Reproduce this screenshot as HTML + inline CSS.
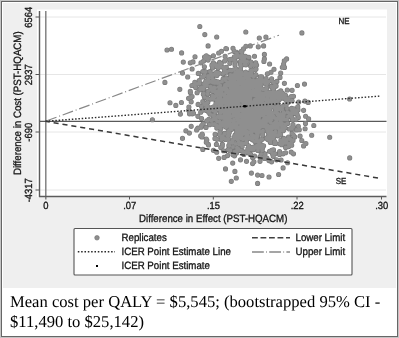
<!DOCTYPE html>
<html><head><meta charset="utf-8"><style>
html,body{margin:0;padding:0;background:#fff;}
svg{display:block;}
text{text-rendering:geometricPrecision;}
.gs{will-change:transform;}
</style></head><body>
<svg class="gs" width="399" height="338" viewBox="0 0 399 338">
<rect x="0" y="0" width="399" height="338" fill="#c4c4c4"/>
<rect x="1" y="1" width="397" height="336" fill="#666"/>
<rect x="2" y="2" width="395" height="334" fill="#ffffff"/>
<rect x="3" y="3" width="393" height="285" fill="#efefef"/>
<rect x="37" y="9.5" width="350" height="187.5" fill="#ffffff"/>
<line x1="40" y1="17" x2="386" y2="17" stroke="#e6e6e6" stroke-width="1"/>
<line x1="40" y1="74.5" x2="386" y2="74.5" stroke="#e6e6e6" stroke-width="1"/>
<line x1="40" y1="132" x2="386" y2="132" stroke="#e6e6e6" stroke-width="1"/>
<line x1="40" y1="190" x2="386" y2="190" stroke="#e6e6e6" stroke-width="1"/>
<line x1="35.5" y1="17" x2="39.5" y2="17" stroke="#555" stroke-width="1"/>
<line x1="35.5" y1="74.5" x2="39.5" y2="74.5" stroke="#555" stroke-width="1"/>
<line x1="35.5" y1="132" x2="39.5" y2="132" stroke="#555" stroke-width="1"/>
<line x1="35.5" y1="190" x2="39.5" y2="190" stroke="#555" stroke-width="1"/>
<line x1="129.5" y1="196" x2="129.5" y2="199.5" stroke="#555" stroke-width="1"/>
<line x1="213.3" y1="196" x2="213.3" y2="199.5" stroke="#555" stroke-width="1"/>
<line x1="297" y1="196" x2="297" y2="199.5" stroke="#555" stroke-width="1"/>
<line x1="381.5" y1="196" x2="381.5" y2="199.5" stroke="#555" stroke-width="1"/>
<line x1="39.5" y1="121.3" x2="386.5" y2="121.3" stroke="#5a5a5a" stroke-width="1.3"/>
<line x1="45.8" y1="11" x2="45.8" y2="199.5" stroke="#7a7a7a" stroke-width="1.4"/>
<defs><path id="pp" d="M193.5 113.3h0M197.9 116.3h0M201.6 118.5h0M203.1 123.7h0M197.9 128.1h0M206 127.4h0M202.4 134.8h0M206.8 140h0M208.3 144.4h0M214.9 138.5h0M216.4 144.4h0M222.3 145.9h0M240.5 159.8h0M246.5 161.3h0M252.6 157.6h0M252.6 163.6h0M260 161.3h0M269 160.6h0M276.6 159.8h0M279.6 154.5h0M279.6 151.5h0M275 153.8h0M282.6 144h0M287 139.5h0M233 147h0M264.4 54.4h0M264.4 58.9h0M269.6 64h0M274 69.2h0M271 72.2h0M267.4 73.7h0M280.7 73h0M280 77.4h0M283.6 64h0M286.6 58.9h0M284.4 83.3h0M287.3 90h0M248.9 57.4h0M245.9 64.8h0M241 58h0M244 61h0M251 62h0M254 65h0M256 69h0M195 56.7h0M208.1 45.9h0M225.9 48.6h0M221.4 51.2h0M218.7 53h0M213.4 55.7h0M209 57.4h0M206.3 55.7h0M190.3 62.8h0M193 61.9h0M201 62.8h0M203.6 61h0M208.1 60.1h0M192.1 69h0M187.7 77h0M198.3 73.4h0M202.8 71.6h0M204.5 75.2h0M208.1 77h0M209.9 71.6h0M212.5 68.1h0M216.1 66.3h0M194.8 82.3h0M199.2 80.5h0M195.7 87.6h0M190.3 91.2h0M192.1 96.5h0M188.6 98.3h0M191.2 101.8h0M241.8 52.1h0M238.3 55.7h0M234.7 57.4h0M231.2 59.2h0M250.3 45.9h0M258.3 46.8h0M263.6 45.9h0M255.7 62.8h0M282.3 67.2h0M297.4 85.5h0M304.5 84.1h0M292.1 90.3h0M291.2 96.5h0M288.5 98.3h0M271.6 78.7h0M273.4 82.3h0M276.1 85.9h0M188.6 110.3h0M191.2 126.3h0M185.9 130.8h0M189.4 133.1h0M201 127.2h0M201.9 137h0M206.3 142.3h0M202.8 149.4h0M213.4 150.3h0M218.7 158.3h0M224.1 157.4h0M227.6 155.6h0M233 154.7h0M236.5 153h0M296.5 112.1h0M298.3 117.4h0M303.6 110.3h0M291.2 108.6h0M293 124.5h0M289.4 129h0M296.5 129.9h0M298.3 126.3h0M292.1 133.4h0M288.5 137h0M293 140.5h0M300.1 136.1h0M301.8 140.5h0M303.6 145.9h0M291.2 152.1h0M287.6 162.7h0M253.9 161.8h0M271.6 161.8h0M199.8 26.5h0M204.8 34.6h0M216.7 37h0M167 50h0M171.5 49.2h0M181.6 52.9h0M183.3 62.1h0M245.8 32h0M259.3 38h0M265.9 37h0M241.9 54.9h0M256.6 65.1h0M293.5 96.3h0M298.7 102.1h0M304.9 101.1h0M276.9 81.4h0M182.5 73.1h0M164.9 82.4h0M179.8 89.3h0M170 102.7h0M175.8 105.4h0M181.4 102.5h0M180.4 114.1h0M152.4 119.7h0M182.5 138.3h0M196.6 130h0M223.5 150.7h0M225.5 168.9h0M234.9 171.4h0M236.3 178h0M231.3 181.3h0M251.4 173.1h0M257.6 175.1h0M257.6 183.4h0M262 175.5h0M269 177h0M278.6 174.5h0M283.1 167.9h0M281.1 160h0M283.1 153.8h0M293.5 153.8h0M291.4 142.4h0M290.4 139.3h0M293.5 135.2h0M305.9 143.5h0M311.7 135.2h0M329.7 137.2h0M308.2 102.4h0M349.6 99h0M308.6 118.9h0M305.5 123.5h0M313.8 125.5h0M305.1 128.7h0M299.3 129.7h0M301.9 32.9h0M284.5 67.4h0M349.7 157.9h0M204.5 57h0M263.9 61.4h0M284.3 60.9h0M286.1 105.3h0M294.1 113.3h0M242.2 146.6h0M259.8 98.5h0M231.5 84.4h0M255.3 69.7h0M247.7 110.9h0M268.7 106.3h0M248.1 104.9h0M217.9 81.8h0M252 107.9h0M260.9 131.9h0M265.2 119.4h0M234.1 121h0M254.6 120.6h0M225.2 89.1h0M236.8 114.9h0M233 121.6h0M243.1 106.7h0M273.1 106.8h0M249.3 92.2h0M275.7 143.4h0M246.3 125.1h0M267.3 83.1h0M266.6 120h0M277.2 105.4h0M221.4 110.6h0M287 119.4h0M229.3 78.8h0M254.5 121.6h0M266.6 100.7h0M237.7 129.2h0M263.3 81.3h0M224.7 98.9h0M224.6 70.4h0M235.4 84.6h0M243.4 100.9h0M261.1 139.6h0M267.6 130.2h0M234.5 100.2h0M268.4 95.2h0M262.1 108.5h0M241.6 80.6h0M225.4 116.1h0M248.9 107.2h0M280.6 93.4h0M280.8 118.1h0M270.6 101.9h0M239.7 82h0M262.2 150.4h0M243.1 90.5h0M231.7 82.5h0M227.9 102.1h0M233.5 75.2h0M246.6 81.1h0M254.8 120.9h0M236.5 130h0M284.2 113.2h0M281.8 96.9h0M216.3 125.2h0M250.1 97.7h0M249.1 109h0M259.2 97.8h0M248.1 136.5h0M239.2 104.8h0M240 129.7h0M241.6 120.8h0M260 88.7h0M224.3 106.9h0M258.2 126.3h0M234.4 97.7h0M248.8 153h0M238.3 91.6h0M244.7 64.6h0M249.2 109.5h0M240.6 138.3h0M238 136.3h0M257 82.4h0M269.8 100h0M228.1 125.8h0M220.3 93.9h0M218.8 107.4h0M253.1 124.3h0M280.9 140.4h0M208.7 112.2h0M200.7 112.2h0M262.6 93.4h0M244.9 106.9h0M252.8 107.4h0M243.4 91.7h0M260.1 86.4h0M227.9 99.4h0M230.2 129.3h0M234.6 96.6h0M249.1 138.4h0M224.8 111.2h0M206.2 107h0M250.9 107.3h0M237.5 120.1h0M273.2 138.2h0M232.8 104.7h0M264.4 117.8h0M278.5 116.5h0M224.2 126h0M249.4 119.2h0M260.8 113h0M269.1 92.3h0M266.7 106.9h0M230 104.4h0M275.3 112.5h0M283.8 138.4h0M243.7 132.3h0M247.4 111.8h0M257.9 150.5h0M281.5 94.4h0M218.6 103.5h0M264.5 98.9h0M242.9 89.5h0M250.4 123.2h0M273.4 116.2h0M268.4 119.4h0M215.9 118.5h0M250.2 105.4h0M250.1 97.2h0M247 151.2h0M254 121.6h0M262.6 125.1h0M247 118.8h0M222.6 125.2h0M250.6 154.4h0M263.7 114.4h0M228.9 117.4h0M249.9 137.9h0M248.4 108.7h0M259.9 120.9h0M244.3 81.1h0M239.9 106.4h0M255 113.9h0M230.1 126.2h0M266.5 128.2h0M260.5 79.7h0M226.6 117.7h0M232.4 108h0M250.6 123.7h0M263.7 125.6h0M253.8 76.4h0M265.4 119.8h0M229.7 108.5h0M208.6 109.3h0M264.4 112.9h0M221.4 104.8h0M240.7 75.2h0M243.9 107.8h0M241.2 110h0M243.9 97h0M254.4 137.4h0M214.1 115.3h0M218.3 67.3h0M241.1 129.2h0M254.5 103.5h0M258.1 114.9h0M264.6 104.4h0M248.3 132.1h0M263.3 115.4h0M258.3 110.3h0M252.1 108.2h0M204.2 109.9h0M281 107.9h0M252.9 94.6h0M235.9 97.6h0M265.1 83.3h0M241.2 109.4h0M277.8 135.8h0M236.5 78h0M269.7 108.7h0M228.4 97.4h0M243.4 107.7h0M251.2 84.1h0M244.9 97.5h0M235.7 103.6h0M246 122.2h0M267.4 105.3h0M219.1 92.2h0M245.3 107.1h0M234.3 80.4h0M251.7 83.5h0M261.6 76.8h0M230 119.9h0M235.8 92.6h0M221.5 91.3h0M291.9 128.7h0M221.7 116.5h0M250.3 114h0M221.2 63.7h0M237.3 139.2h0M264.9 111.8h0M214.7 96.6h0M266.3 88.7h0M291.2 113.2h0M269.4 126.8h0M241.1 119.6h0M230.8 124.5h0M252.3 102.3h0M260.4 76.7h0M222.1 102.5h0M236.7 136.9h0M274.4 101h0M209.5 124.7h0M256.4 114.4h0M280.8 90.9h0M255.9 74.8h0M205.6 71.8h0M263 122.6h0M267.4 101.3h0M241.4 122.7h0M243.8 152.7h0M255.7 113.7h0M245.1 82.7h0M246.7 123.8h0M221.4 124h0M255.7 118.4h0M243.2 102.6h0M249.2 76.2h0M260.9 106h0M224.3 113.5h0M223.9 116h0M223.3 121.9h0M280.8 95.5h0M267.3 127.6h0M218.2 68.1h0M269.2 94.5h0M230.1 99.5h0M248.7 145.7h0M246.4 141.8h0M243.7 130.4h0M242.2 86.1h0M234.3 86.8h0M246.6 104.6h0M226.9 89.6h0M227.5 109.2h0M274.4 95.5h0M226.1 77.9h0M233 101.1h0M257.8 121.6h0M242.4 59.3h0M271.2 105.3h0M263.7 126.3h0M267.9 106.1h0M235.2 107.7h0M247.8 78.7h0M245.3 105.2h0M225.4 97h0M207 85.3h0M240.5 68.9h0M280.8 120.8h0M223.1 73.8h0M251.7 75.3h0M248.9 83.6h0M249.6 75.1h0M279.7 129.9h0M282.2 109.3h0M274 102.6h0M230.8 103.4h0M241.9 92.9h0M270.4 105.9h0M241.9 100.3h0M226 71.9h0M228.8 94h0M248.1 101.5h0M256.6 87.9h0M259.6 81.7h0M239.1 116.1h0M263.3 111.6h0M256.8 147.8h0M236.1 85.3h0M226.4 72.2h0M237.1 133.3h0M223.5 117h0M229.1 122.2h0M234.1 138.8h0M265.6 110h0M269.6 151.3h0M247.8 86.6h0M214.8 82.9h0M258.8 101.4h0M247.8 92.5h0M264.5 124.5h0M279 123.5h0M246.1 88.2h0M241 93.9h0M242.3 138.8h0M212.3 98.3h0M223.6 124.7h0M257.7 93.1h0M248.2 127.8h0M240.3 96.7h0M244 111.5h0M242.2 58.6h0M243.7 109.4h0M270.3 128.6h0M207.8 102.3h0M246.4 139.1h0M249.6 128.1h0M233.1 86.7h0M242 119.4h0M269.2 103.9h0M243.8 90h0M257.9 92.1h0M240.8 56.4h0M251.4 111.4h0M284.4 96.3h0M227.4 107h0M236.8 55.1h0M205.2 86h0M256.4 99.9h0M250.5 107.5h0M241.3 136h0M254.3 127.2h0M244.9 129.4h0M291.6 108.4h0M250.5 113.1h0M253.1 105.9h0M238.3 109.4h0M247.7 110.8h0M251.8 70.7h0M253.1 86.1h0M249.6 89.9h0M263.5 157.7h0M244 84.7h0M245.3 77h0M242.9 98.1h0M225.6 102.2h0M225.4 139.5h0M218.5 87.1h0M266.8 80.6h0M268.4 81.7h0M236.6 151h0M287.5 112.1h0M250.5 115.2h0M269.1 102.7h0M258.6 132.3h0M237.4 97.8h0M215 91.6h0M251.6 107.1h0M242.1 96.3h0M255.1 103.7h0M257 126.7h0M259.1 94.3h0M243.6 143.6h0M285.2 99h0M226.8 109.5h0M227.7 120.1h0M228.6 105.6h0M245.1 94.9h0M252.3 83.4h0M270.7 135.4h0M278.7 106.4h0M225.8 59.5h0M263.9 105.6h0M241.8 124.7h0M241.8 96h0M220 102.8h0M263.6 145.7h0M251 87.9h0M229.3 109.7h0M213.6 106.7h0M230.3 81.4h0M237.4 150.8h0M229.1 106.1h0M212.5 65.5h0M292.1 100.7h0M282 127.5h0M243.9 131.3h0M275.2 95.4h0M261.5 94.8h0M273.4 126.4h0M224.4 94.5h0M266.3 127.8h0M243.2 116.4h0M258.7 82.8h0M259.8 112.1h0M214.9 87.9h0M250.8 115.6h0M240.1 88.3h0M247.8 122.8h0M249.7 79.4h0M248.8 114.2h0M276.7 109.6h0M232.2 142.8h0M258 125.6h0M279.5 109.3h0M208.8 119.2h0M242.5 60.7h0M268.5 114.5h0M256.6 82.2h0M279.6 131.9h0M271.4 80.3h0M257.7 120.5h0M229.3 132.5h0M267.7 95.5h0M231.8 86.5h0M283.8 118.4h0M245.9 99.1h0M269.9 108.7h0M239.1 120.2h0M248 103.7h0M246.5 124h0M281.1 118.5h0M267.5 127.2h0M239.9 77.1h0M233.1 79.1h0M218.8 90.6h0M230.5 108.2h0M229.5 78.8h0M238.3 133.3h0M270.3 137h0M240.9 84h0M199.5 82.6h0M277.4 118.7h0M293.3 126.8h0M267.3 107.7h0M216.9 75.6h0M212.5 95.7h0M233 89h0M238.3 97.6h0M225.5 102h0M254.3 118.3h0M214.6 124.5h0M244.3 87h0M257.8 120.6h0M226.7 71.8h0M257.2 87.1h0M267.4 96.9h0M261.2 88.2h0M272.9 133.1h0M248.6 117.3h0M259.1 117.7h0M255.4 121.7h0M214.4 90.4h0M255.8 105.7h0M236.7 78.2h0M254.7 113.5h0M238.7 82.4h0M250.6 96h0M233.4 112.7h0M219.2 73.3h0M283.5 112.2h0M250.3 97.6h0M216.5 93.4h0M224.7 111.6h0M257 110.5h0M256.8 107.1h0M202.3 88.7h0M234 125.3h0M205.8 81.3h0M259 121.3h0M216.2 64.9h0M240.8 90.3h0M261.8 96.7h0M245 103.1h0M268.7 133.1h0M225.8 116.3h0M215.7 81.4h0M261.8 106.7h0M219.6 117.6h0M236.5 99.7h0M234.2 127.2h0M232.9 76.1h0M242.5 126.6h0M219.5 116.4h0M235.2 111.6h0M223.6 99.6h0M219.1 104h0M229.8 142.8h0M259.2 84.5h0M253.5 125.3h0M260.6 80.5h0M288.4 100h0M223.9 108h0M236.4 105.5h0M244.5 121.6h0M251.4 133.4h0M261 84.7h0M253.3 92.7h0M233.4 126.9h0M268.6 113.3h0M249.7 109.5h0M220.3 110.4h0M249.8 121.5h0M219.2 103.5h0M244.4 101h0M235.9 105.6h0M220.2 124h0M249.4 100.3h0M254.9 141.6h0M248.4 124.9h0M241.5 108.2h0M252.7 117.2h0M199.7 83.6h0M249.2 89.9h0M253.5 90.9h0M236.2 87.3h0M263.8 119.7h0M274.5 100.1h0M275.1 108h0M268.2 111.2h0M258.3 80h0M233 78.1h0M237 83.9h0M275.8 118.6h0M244.2 98.2h0M239 93h0M234 121.4h0M240.3 88.8h0M225.8 115.6h0M230.6 87.7h0M248.5 127h0M253.3 80.3h0M229.8 63.3h0M266.8 84.2h0M256.1 123.8h0M252 95h0M258 111.7h0M261.5 110.2h0M286.9 108.5h0M204.2 104h0M235.8 143.9h0M224.8 97.9h0M246.5 135.1h0M221.6 117.9h0M272.9 99.5h0M275.1 122.6h0M220.4 96.8h0M269.9 113.5h0M271.1 95.9h0M201.7 77h0M219.7 91.1h0M255.9 130.5h0M262.2 139.3h0M251 111.3h0M247.3 117.6h0M234.8 86.6h0M276.2 121h0M282.5 98.1h0M219.5 126.4h0M228.2 121.1h0M234.8 103.3h0M206.5 110.4h0M216.8 102.3h0M271.4 138.8h0M255.1 129.2h0M229.7 100.2h0M268.4 103.3h0M261.9 82.1h0M243 98.4h0M236.6 132.6h0M233.3 88.4h0M271.6 150.2h0M207.9 91.7h0M235 135.1h0M248.8 125.7h0M271 130.7h0M267.2 98.4h0M228 85.3h0M274.9 92.8h0M236.4 123.9h0M235 77.1h0M283.8 129.9h0M242.6 125.3h0M247.2 110.6h0M250.3 119.8h0M272 92.4h0M262.6 101.7h0M258.9 126.4h0M250.9 70.8h0M271.7 119.3h0M244.9 104.6h0M276.6 120.8h0M231.8 104.3h0M257.7 115.7h0M242.3 78.5h0M212.8 82.6h0M277.1 127.7h0M263.2 80.4h0M253.1 80.5h0M220.3 124.9h0M246.3 136.9h0M220.6 95.5h0M250.9 81.7h0M258.7 118.8h0M231.2 107.6h0M220.4 90.1h0M270.6 134.7h0M222.4 107.6h0M225.8 87.6h0M235.1 98.4h0M226.7 96.6h0M227.4 135.7h0M235.1 103.1h0M235 62.3h0M272 95.8h0M259.5 93.6h0M244.3 121.4h0M230.3 103.4h0M237.6 95.8h0M245.5 121.8h0M228.7 135.7h0M240.5 91.1h0M208.2 79h0M240.8 76.9h0M233.5 100h0M247.5 96.8h0M253.3 103.4h0M262 94.4h0M258.4 81.4h0M244.7 132.2h0M250.9 122.2h0M230 99.7h0M207.4 98.4h0M226.2 127.2h0M221.4 102.5h0M253.5 147.6h0M234.1 122.9h0M213.2 115.8h0M242.9 74.5h0M259.2 97.6h0M260.7 147.3h0M210.8 109.4h0M271.6 128h0M250.1 149.1h0M248.8 89.5h0M233.4 124.1h0M245.2 152.8h0M200.2 88.8h0M243.1 139.2h0M245.6 106.4h0M246.5 120.1h0M263.2 96.5h0M225.7 80.3h0M222.8 117.8h0M220.5 66.5h0M275.4 134.7h0M231.5 95.8h0M251.3 147.6h0M244.6 132.9h0M241.7 100.7h0M224.5 133.4h0M225.1 56.2h0M255.9 110.2h0M249.4 100.1h0M226 92.2h0M270.4 127.1h0M235.8 126.2h0M239.4 91.6h0M204.4 97.1h0M273.8 137.1h0M261.2 154.1h0M214.2 74.8h0M242.6 116h0M263.5 114h0M257.7 131.3h0M274.9 141.6h0M283.3 96.4h0M251 84.9h0M269.7 117h0M270.9 122.8h0M269.7 117.7h0M221.4 88.5h0M235.7 106.6h0M240.4 61.7h0M211.5 120.1h0M278.7 95h0M271.3 98.2h0M247.3 134.2h0M273.5 149.8h0M227.4 104.7h0M235.4 74h0M242.1 79.6h0M251.8 64.4h0M225.6 87.9h0M248.6 105.3h0M241.8 123h0M221.3 137.5h0M245 115.3h0M223.4 107.7h0M275.4 109.6h0M250.5 113.3h0M250.7 65.9h0M236.2 76.7h0M247.2 96.9h0M230.4 150.1h0M239.9 109.1h0M218 116.3h0M235.6 111.9h0M226.8 114h0M259.2 95h0M254.9 105h0M201.9 110.4h0M258.1 107.7h0M229.5 91.7h0M250.7 102.8h0M214.1 109h0M252.9 107.7h0M241.8 72.4h0M268.8 111.7h0M257.7 117.1h0M247 117.1h0M245.1 94h0M235.8 111.3h0M256.2 95.6h0M249.6 107.3h0M251 110.2h0M226.9 118.8h0M268.9 140h0M254.3 146.9h0M259.3 131.9h0M237.4 118.3h0M232.9 87.2h0M217.2 93.2h0M240.7 116.2h0M254.3 90.5h0M267 119.7h0M243.5 101.7h0M252.5 115.3h0M249 73.6h0M265.9 122.1h0M257.5 91.1h0M252.6 128.9h0M280.6 134.8h0M238.6 77.2h0M231.4 83h0M257.8 81.7h0M269.7 109.6h0M216.1 72.7h0M256.4 82.8h0M235 65h0M246.2 88.3h0M220.4 109.4h0M256.7 129.8h0M261.9 111.6h0M218.7 82.7h0M276.8 125h0M248.4 84.3h0M220.2 85.5h0M210.6 99.1h0M268.6 139.2h0M259.7 95.3h0M258.1 124.2h0M241 66h0M261.2 109.3h0M249.2 116.9h0M268.3 132.7h0M244.4 138.4h0M270.6 127.8h0M253.7 95.1h0M267 95h0M241.9 84.1h0M227.5 110.9h0M234.8 81.9h0M255.2 107.5h0M222.4 144.4h0M245.7 74.8h0M248.4 89.5h0M233 99.4h0M268.3 136.4h0M224.2 109.3h0M248.9 100.8h0M220.6 98.4h0M271.9 112.8h0M220 108h0M243.6 86.8h0M240.2 87.8h0M257.9 123.1h0M251.4 131.6h0M219.4 65.6h0M272.6 86.9h0M258.6 120.3h0M232 101.2h0M249 132.3h0M240.3 94.8h0M247.5 107.3h0M258.1 141.7h0M254.7 106.6h0M263 130.7h0M243 105.4h0M255.9 119.4h0M238.2 119.2h0M240.8 88.7h0M237.3 114.4h0M262.2 111.3h0M238.6 81.1h0M226.2 105.4h0M254.8 118.7h0M252.5 70.1h0M239.2 114.6h0M256.1 110.1h0M285.5 95.2h0M239.4 144.4h0M245.7 111.5h0M230.2 111.2h0M243.4 81.2h0M274.6 97.8h0M246.7 120.2h0M254.6 99.9h0M279.4 134h0M236.6 117.3h0M230.5 116.6h0M243 108.3h0M236.7 112.5h0M224.2 102.5h0M277.5 114.5h0M247.1 61.6h0M225.3 97.3h0M218.6 127.3h0M292.6 119.8h0M246.3 94.6h0M256.9 145.6h0M272.4 114.9h0M292.1 133.4h0M262.4 95.6h0M230.7 90.6h0M224 95.3h0M253.3 116.3h0M238.3 130.3h0M279.7 114.5h0M242.1 128.1h0M247.8 93.9h0M253.3 136.4h0M226.5 123.7h0M232.8 142.7h0M226.3 108.6h0M229.7 59.5h0M285.1 127.8h0M250.3 98.7h0M235.8 127.3h0M271.4 135.4h0M238 121.7h0M267.3 125.2h0M288 116.5h0M272.3 96h0M252.9 87.8h0M255.2 122.6h0M238.2 117.1h0M265.4 107.7h0M227.9 96.2h0M266.9 158.1h0M248.2 103.6h0M248.3 117.6h0M203.3 94.2h0M244.6 120.5h0M223.6 108.7h0M272.2 117.5h0M272.2 117.9h0M208.6 78.4h0M241.9 80h0M235.3 86.3h0M239.6 100.2h0M228.1 132.5h0M245.4 120h0M241.1 124h0M254.9 126.3h0M245.9 72.2h0M255.9 107.7h0M249.5 91.8h0M220.1 103.3h0M277.5 107.1h0M249.9 109h0M224.4 107.8h0M250.2 112.6h0M220.4 99h0M246 113.5h0M214.3 108.2h0M244.2 58.8h0M240.7 79.8h0M239.4 101.1h0M256.8 138.2h0M251.1 106.3h0M239.7 121.7h0M209.7 110.2h0M233.5 114.6h0M220.4 112.7h0M256 128.9h0M260.5 114.5h0M216.8 100.2h0M238.6 76.2h0M245.7 72.3h0M228.3 106.5h0M222.2 94.4h0M234.4 59.9h0M224.7 95.7h0M222.8 124.5h0M221.8 123.9h0M258.5 131.3h0M238 70.7h0M282.1 126.2h0M239.2 79.3h0M262.8 131.5h0M235.8 68.7h0M238.4 131.3h0M260 141.1h0M268.5 104.1h0M260.5 79.6h0M238.7 107.1h0M262.3 96.2h0M240.6 126.7h0M238.4 127.3h0M256.4 120.3h0M254.3 107.7h0M253 81.5h0M246.2 122.4h0M260.1 122.5h0M228.8 145.6h0M247.2 86.7h0M238.8 82.1h0M225 85h0M237.3 131.8h0M270.5 126.7h0M262 100.6h0M246.4 107.8h0M254.8 114.7h0M216.8 95.5h0M266.6 87.8h0M212.9 79.4h0M212.1 77.9h0M259.5 141h0M249.3 127.6h0M235.4 96.2h0M211.8 75.7h0M253.5 119.7h0M264.5 124.9h0M201.7 87.5h0M257.9 100.8h0M245.6 91.4h0M269.4 95.8h0M254 103.9h0M260.9 114.8h0M269.3 108.4h0M256.5 109.2h0M255.8 130.4h0M268.3 120.3h0M239.2 93.4h0M237.1 82.5h0M280.8 118.5h0M238 95.3h0M246.6 89.7h0M260.7 103.6h0M210.9 73.3h0M247.7 115.9h0M251.6 118.2h0M228.7 100.1h0M244 106.7h0M230.7 85.2h0M259.5 95.3h0M243.2 86h0M256.8 99h0M230.9 85h0M225.5 85.4h0M238.4 86.7h0M236.8 73.9h0M258.5 93.2h0M243.7 80.5h0M231.8 87h0M240.1 90.3h0M237.1 113.5h0M245 88.7h0M261.6 96.9h0M263.9 118.9h0M219.1 99.6h0M253 85.3h0M282.9 93.5h0M233.9 109.7h0M215.5 91.3h0M251.3 93.7h0M202.7 88.2h0M270.4 127.7h0M281.2 92.1h0M242.2 110.7h0M246.5 83.8h0M256.8 92.7h0M212.7 80.8h0M249.9 128.4h0M240.9 130.4h0M255.9 99.7h0M223.6 88.1h0M251.5 72.8h0M285.6 147.4h0M240.2 114.7h0M256.7 115.7h0M255.4 114.1h0M244.9 93.6h0M244.8 124.6h0M276.1 97.5h0M236.2 106.5h0M234.2 103.1h0M230.4 120.4h0M213.4 62.9h0M251.1 133.2h0M243.4 93.1h0M235.7 103.2h0M265.9 113.5h0M254.3 130.9h0M224.6 61h0M255.6 95.7h0M249 106.6h0M250 100.6h0M259.9 104.5h0M281.7 97h0M255.3 101.6h0M237.5 101h0M230.4 75h0M250.7 94.8h0M227.8 100.2h0M263.1 94.4h0M220.8 98.9h0M242.9 111.3h0M244 108h0M254.7 84.4h0M247.2 77.1h0M261.3 146.2h0M249.5 105.3h0M213.5 82.4h0M207.8 82.8h0M261.7 80.7h0M281.9 123.3h0M245.8 98.5h0M207.4 82.9h0M223 73.9h0M192.4 112.5h0M219.6 134.6h0M231.6 98.7h0M256.9 117.9h0M219.5 121.5h0M253.6 114.5h0M215.9 93.2h0M244.7 92.5h0M223.3 67.5h0M285.4 124.4h0M231.7 78.9h0M281.6 114.8h0M208.3 75.9h0M236.9 101h0M233 48.2h0M234 105.5h0M252.1 147.7h0M256.3 139.6h0M267.8 111h0M211.2 120.7h0M234 69.8h0M238.6 104.3h0M241.9 82.4h0M245 74.4h0M217.6 83h0M233.3 116.1h0M261.6 78.1h0M241.8 87.5h0M217.8 72.6h0M203.8 93.4h0M240.1 72.8h0M247 80.7h0M253.7 120.9h0M268.2 99.6h0M233.9 83.8h0M288.7 146.6h0M204 83.9h0M282.6 114.7h0M219.6 62.2h0M246.5 94.9h0M243.1 103h0M252.1 149.6h0M240.5 64.3h0M210.6 86.8h0M224.1 72.8h0M252.7 88.1h0M253.5 118.8h0M266.4 138.2h0M201.7 125.5h0M243.8 121.5h0M259.5 105.2h0M203.3 110.1h0M237.6 84.1h0M246 143.4h0M208.5 145h0M272.2 138.1h0M220.1 122.6h0M197.4 83.9h0M230.3 150.9h0M270.5 141h0M275.8 96.8h0M273.6 102h0M286.5 140.8h0M188.9 107h0M228 111.5h0M215.1 134.2h0M275.6 127.9h0M253.4 149.5h0M297.3 114.7h0M265.2 124h0M239.3 105h0M271.4 86.4h0M262.4 105.1h0M288.3 102.3h0M292.1 110.2h0M214.2 91.3h0M251.3 126.9h0M240.8 88.1h0M205.7 108.4h0M212.1 91.1h0M200 89.8h0M246 120.5h0M212.8 124.2h0M248 86.2h0M216.8 128.1h0M206.3 139h0M254.6 156h0M240.5 150.4h0M253.4 106.8h0M271.6 86.9h0M263.2 89.3h0M273.2 93.5h0M252.8 109.6h0M242.5 90.6h0M204.4 66.8h0M242.8 110.7h0M273.4 93.4h0M259.5 147.8h0M259 107.9h0M243.7 78.7h0M252.9 115.5h0M259.7 127.7h0M214.7 119.1h0M243.5 48.9h0M264.6 104h0M245.9 46.2h0M220.1 132.4h0M279.1 133.4h0M257.8 83.7h0M288.7 143.7h0M224 112.6h0M270.6 130.5h0M297.8 106.7h0M244.7 126.8h0M242.7 127.2h0M239.4 120.6h0M286.9 101.7h0M243 112.3h0M220.8 147.6h0M257.7 83.6h0M225 138.9h0M211.9 65.3h0M235.9 99.9h0M254.7 125.5h0M218.4 67.6h0M245.2 101.8h0M275.9 121.6h0M236.8 88.8h0M233.9 119.8h0M227 122h0M241.1 109h0M281.6 144.7h0M254 110.9h0M257.5 136.2h0M227.6 114.2h0M266 105.5h0M245 61.3h0M248.6 99.2h0M252.7 109.9h0M228.2 131.2h0M258 117.7h0M257.4 118h0M258.9 108.9h0M236.6 88.8h0M263.4 123.5h0M220.8 128.7h0M282.6 106.5h0M233.5 85.4h0M236.9 136.3h0M243.9 111.1h0M259 128.6h0M231.6 129.2h0M293.8 108.7h0M234.3 51.4h0M257.6 106.1h0M252.5 91.6h0M218.7 98.1h0M240.2 110.5h0M229.3 146h0M270.6 136.4h0M234 137.2h0M237.1 90.7h0M255.8 138.1h0M273.2 156.3h0M252 106.1h0M267.8 139.4h0M232.1 94.4h0M281.7 93.7h0M283.2 130.7h0M257.5 105.7h0M215.2 112h0M228.2 83.8h0M282.3 93.1h0M277.7 101h0M272.2 117.4h0M275.5 131.8h0M206.6 103.5h0M253.7 149.6h0M237 53.4h0M257.2 134.6h0M244.2 95.4h0M245.5 56.2h0M276.4 120h0M205.8 58.1h0M253.7 83.6h0M234.4 56.8h0M261.9 103.1h0M236.9 147.8h0M224.9 86h0M266.5 117.5h0M241.6 108.7h0M258.6 145.2h0M251.1 85.8h0M258.3 92.6h0M205.8 104.9h0M272.4 88.1h0M276.5 93.2h0M231.6 70.5h0M254.2 108.5h0M252.1 111.9h0M214.3 118.5h0M243.5 61.6h0M285.6 152.7h0M192.3 113.8h0M250.1 100.3h0M227.3 82.8h0M263 120.3h0M229.1 102.6h0M272.6 132.6h0M245.9 88.2h0M266.8 101.4h0M287.7 123.4h0M273.2 124.1h0M285.2 97.8h0M262.1 80.9h0M231.3 87.5h0M264.7 158.5h0M258.8 93.7h0M194.6 84.9h0M223.1 79h0M234.3 92.2h0M284.1 138.8h0M224.8 119h0M235.7 83.8h0M210.9 107.9h0M292.2 110.3h0M243.7 110.1h0M250.8 83.5h0M264.2 106.3h0M285.9 142.8h0M243.4 109h0M260.1 101.3h0M243.1 133.5h0M243.6 117.7h0M226.3 67.2h0M255.3 100.4h0M262.7 135.3h0M259.7 91.2h0M243.9 91.6h0M305.6 116.2h0M274.1 117.2h0M262.9 157.6h0M222 93.8h0M203.4 89.3h0M264.9 81.4h0M234.5 115.5h0M256.3 111.7h0M242.7 151.2h0M260.9 103h0M222.8 135.9h0M291.9 117.5h0M266.1 91.6h0M262.5 103.5h0M213.6 99.1h0M250.4 98.9h0M256.5 132.2h0M211.3 88.1h0M191.9 85.5h0M259.2 144.2h0M232.3 75.4h0M245.9 109h0M261.5 124.9h0M262.7 81.8h0M234.8 85.1h0M225.7 123.1h0M251.6 134.5h0M217 139.2h0M206.8 120.9h0M274.6 143.4h0M248 81.6h0M291.1 115.6h0M211.1 89.2h0M265.6 89.7h0M298 109.9h0M272.4 153.8h0M206.6 84.9h0M250.9 75.6h0M251.1 109.4h0M296 119.6h0M236.3 56.9h0M218.1 109.4h0M278.3 92.2h0M240.9 51.5h0M238.6 141.6h0M265.4 119.4h0M231 101.2h0M239.8 133h0M289.5 113.5h0M217.2 74.5h0M218.1 101.3h0M257.8 93h0M247.4 82.6h0M229.5 118.1h0M257.1 116.7h0M203.4 76.7h0M253.3 116h0M259 101.1h0M270.4 142.5h0M262.6 132.2h0M260.1 100.7h0M280.2 130.2h0M262.9 100.4h0M226.5 48.7h0M264.7 105.1h0M274.7 98.1h0M212 64.9h0M253.1 80.9h0M255.3 102h0M272.2 135.6h0M249.4 117.8h0M256 105.6h0M226.9 118.5h0M273.5 89.1h0M224.1 138.5h0M274.8 86.7h0M201.6 106.5h0M253.9 135.9h0M253 83.5h0M198.1 104.4h0M245.7 125.9h0M244.9 84.5h0M273.5 100.4h0M247.9 148.6h0M208.2 91.1h0M248.1 115.1h0M217 121.2h0M238.7 122.9h0M267.8 101h0M189.5 113.8h0M283.9 141.5h0M243.9 154.4h0M260 156.7h0M230.8 116.8h0M231.6 99.9h0M242.6 127.9h0M271.9 100.3h0M244.6 125.7h0M245.9 100.4h0M262.6 147.9h0M256.9 80.1h0M264.1 98.9h0M221.9 110.4h0M269.8 93.5h0M235.4 61.9h0M291.6 127.8h0M225.6 120.5h0M264.9 155.9h0M267.1 102.3h0M224.6 89.4h0M241.2 109.2h0M234.7 151.6h0M275 85h0M276.8 101.4h0M246.4 94.6h0M241.6 143.3h0M279 99.9h0M279 118.8h0M197.1 92.7h0M250.7 85.9h0M213.6 119.3h0M260.7 126.7h0M265.4 94.7h0M249.7 81.2h0M246.5 131.5h0M225.2 112.5h0M235.3 72.8h0M229.1 120.3h0M269.8 94.3h0M243.7 133.7h0M279.4 97.8h0M232.7 163.1h0M267.7 139.1h0M268.3 120.7h0M231.5 85.1h0M233.4 101.5h0M243.4 60.4h0M247 109.7h0M229.6 125.1h0M203.8 87.3h0M242.2 99.4h0M267.2 130.9h0M234.5 155.8h0M245.3 85.6h0M267.4 94.3h0M245.2 113.3h0M215.9 103.5h0M210 114.1h0M231.7 92.3h0M238.5 95.8h0M272.5 92.4h0M254.5 56.2h0M273.2 128h0M261.8 145.1h0M253.1 86.5h0M265.9 92.7h0M238.1 113.3h0M243.5 56.8h0M256.7 83.4h0M238.6 109.7h0M240.8 126.4h0M243 112.7h0M242.9 104.7h0M245.5 103.9h0M233.9 104.5h0M238.2 148.7h0M265 153.9h0M219.8 66.1h0M231.2 129.4h0M248.7 107.6h0M207.8 94h0M294.7 136.9h0M217.1 100.6h0M244.7 117.8h0M214.2 87.5h0M289.2 100.8h0M232.3 140.6h0M267.4 98.9h0M227.9 115.9h0M260.7 115.3h0M247.3 78.1h0M266.1 78.5h0M216.7 152.2h0M243.6 100.2h0M237.7 119.8h0M230.9 110.6h0M250.7 66.3h0M224.6 102.9h0M247.8 77.5h0M197.2 129h0M190.4 92.6h0M245 81.7h0M200.7 135.9h0M233.7 94.5h0M242 90h0M256.5 126.5h0M262.6 94.4h0M255.3 105.2h0M244.4 106h0M277 112.8h0M207.4 106.2h0M232 92.8h0M219.6 94.3h0M258.9 106.9h0M283.8 115.9h0M253.7 92.7h0M256.5 105.7h0M245 91.3h0M221.3 139.7h0M202.8 101.6h0M240 116h0M213.3 110.4h0M239.4 88.1h0M215.7 72.8h0M257.8 96.4h0M278 127.8h0M263.9 123.4h0M256.3 103.2h0M207.3 121h0M247.9 151.6h0M241.1 83h0M257.2 101.4h0M228 149.6h0M243.4 85.3h0M190.8 97.4h0M244.2 115.5h0M232.5 91.3h0M254 85.5h0M232.5 141.7h0M279.2 125.1h0M235.3 105.3h0M236.1 90.2h0M235 76.2h0M230 70.4h0M240.3 92.2h0M294.7 110h0M215.7 105.9h0M235 78.4h0M291.7 145.2h0M209.9 81.7h0M223 89.4h0M243.9 124.4h0M227.6 90.7h0M228.4 139.3h0M202.2 134h0M252.5 125.9h0M227.6 98.7h0M279.5 98.6h0M255.2 123.8h0M257.4 83.6h0M229.6 114h0M280 143.8h0M226.6 111.4h0M252.4 139.8h0M252.1 107.6h0M222 81.6h0M232 77.8h0M284.3 119.4h0M244.6 102.5h0M249.7 86.6h0M254.6 104h0"/></defs><use href="#pp" fill="none" stroke="#7a7a7a" stroke-width="5.15" stroke-linecap="round"/><use href="#pp" fill="none" stroke="#8f8f8f" stroke-width="3.9" stroke-linecap="round"/>
<line x1="39.5" y1="11" x2="39.5" y2="197" stroke="#5c5c5c" stroke-width="1.45"/>
<line x1="39" y1="196.5" x2="386.5" y2="196.5" stroke="#5c5c5c" stroke-width="1.4"/>
<line x1="45.5" y1="121.3" x2="279" y2="35.2" stroke="#888" stroke-width="1.2" stroke-dasharray="11,2.8,1,2.8" stroke-dashoffset="-0.7"/>
<line x1="45.5" y1="121.3" x2="381" y2="96" stroke="#2a2a2a" stroke-width="1.4" stroke-dasharray="1.5,1.8"/>
<line x1="45.5" y1="121.3" x2="381.5" y2="178.6" stroke="#383838" stroke-width="1.5" stroke-dasharray="5.1,3.9" stroke-dashoffset="0.8"/>
<ellipse cx="244.8" cy="106.3" rx="2" ry="1.25" fill="#000"/>
<g font-family="Liberation Sans" fill="#151515" stroke="#151515" stroke-width="0.32">
<text x="32" y="17.3" font-size="10.34" textLength="20.91" lengthAdjust="spacingAndGlyphs" text-anchor="middle" transform="rotate(-90 32 17.3)">6564</text>
<text x="32" y="74.8" font-size="10.34" textLength="20.91" lengthAdjust="spacingAndGlyphs" text-anchor="middle" transform="rotate(-90 32 74.8)">2937</text>
<text x="32" y="132.3" font-size="10.34" textLength="18.81" lengthAdjust="spacingAndGlyphs" text-anchor="middle" transform="rotate(-90 32 132.3)">-690</text>
<text x="32" y="190.3" font-size="10.34" textLength="24.04" lengthAdjust="spacingAndGlyphs" text-anchor="middle" transform="rotate(-90 32 190.3)">-4317</text>
<text x="45.8" y="209" font-size="10.34" textLength="5.23" lengthAdjust="spacingAndGlyphs" text-anchor="middle">0</text>
<text x="129.8" y="209" font-size="10.34" textLength="13.07" lengthAdjust="spacingAndGlyphs" text-anchor="middle">.07</text>
<text x="213.5" y="209" font-size="10.34" textLength="13.07" lengthAdjust="spacingAndGlyphs" text-anchor="middle">.15</text>
<text x="297.2" y="209" font-size="10.34" textLength="13.07" lengthAdjust="spacingAndGlyphs" text-anchor="middle">.22</text>
<text x="381.7" y="209" font-size="10.34" textLength="13.07" lengthAdjust="spacingAndGlyphs" text-anchor="middle">.30</text>
<text x="344" y="23.6" font-size="8.80" textLength="11.11" lengthAdjust="spacingAndGlyphs" text-anchor="middle">NE</text>
<text x="341.1" y="183.6" font-size="8.80" textLength="10.67" lengthAdjust="spacingAndGlyphs" text-anchor="middle">SE</text>
<text x="20.8" y="103.2" font-size="10.67" textLength="143.74" lengthAdjust="spacingAndGlyphs" text-anchor="middle" transform="rotate(-90 20.8 103.2)">Difference in Cost (PST-HQACM)</text>
<text x="213.2" y="221.8" font-size="10.67" textLength="148.42" lengthAdjust="spacingAndGlyphs" text-anchor="middle">Difference in Effect (PST-HQACM)</text>
</g>
<rect x="74" y="228.5" width="278" height="46.5" rx="1" fill="#fff" stroke="#555" stroke-width="1.1"/>
<circle cx="97" cy="237.8" r="2.3" fill="#8e8e8e" stroke="#6e6e6e" stroke-width="0.6"/>
<line x1="77.8" y1="251.7" x2="115" y2="251.7" stroke="#2a2a2a" stroke-width="1.5" stroke-dasharray="1.55,1.78"/>
<rect x="96" y="265" width="2" height="2" fill="#000"/>
<line x1="252" y1="237.7" x2="290" y2="237.7" stroke="#404040" stroke-width="1.4" stroke-dasharray="5.8,2.7"/>
<line x1="252" y1="252" x2="290" y2="252" stroke="#888" stroke-width="1.3" stroke-dasharray="11.8,2.3,0.8,2.3"/>
<g font-family="Liberation Sans" fill="#151515" stroke="#151515" stroke-width="0.32">
<text x="121.5" y="241.1" font-size="10.67" textLength="45.29" lengthAdjust="spacingAndGlyphs" text-anchor="start">Replicates</text>
<text x="121.5" y="255" font-size="10.67" textLength="109.44" lengthAdjust="spacingAndGlyphs" text-anchor="start">ICER Point Estimate Line</text>
<text x="121.5" y="268.9" font-size="10.67" textLength="88.41" lengthAdjust="spacingAndGlyphs" text-anchor="start">ICER Point Estimate</text>
<text x="295.5" y="241.1" font-size="10.67" textLength="49.59" lengthAdjust="spacingAndGlyphs" text-anchor="start">Lower Limit</text>
<text x="295.5" y="255" font-size="10.67" textLength="49.59" lengthAdjust="spacingAndGlyphs" text-anchor="start">Upper Limit</text>
</g>
<g font-family="Liberation Serif" font-size="16.6" fill="#000">
<text x="10" y="306.8">Mean cost per QALY = $5,545; (bootstrapped 95% CI -</text>
<text x="10" y="326.8">$11,490 to $25,142)</text>
</g>
</svg>
</body></html>
